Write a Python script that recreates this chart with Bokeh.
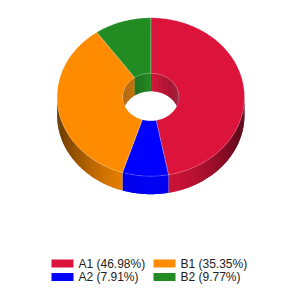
import numpy as np
from bokeh.plotting import figure
from bokeh.models import Range1d, ColumnDataSource
from bokeh.embed import file_html
from bokeh.resources import INLINE
from bokeh.core.properties import value

labels = ["A1", "A2", "B1", "B2"]
values = [46.98, 7.91, 35.35, 9.77]
colors = ["#DC143C", "#0000FF", "#FF8C00", "#228B22"]

CX, CY, RX, RY, DEPTH, INNER = 150.3, 96.5, 93.7, 79.2, 18.0, 0.3


def rgb(h):
    h = h.lstrip("#")
    return [int(h[i:i + 2], 16) for i in (0, 2, 4)]


def shade(h, f):
    r, g, b = rgb(h)
    c = [max(0, min(255, int(round(v * f)))) for v in (r, g, b)]
    return "#%02x%02x%02x" % tuple(c)


def pt(theta, r=1.0, dy=0.0):
    return CX + RX * r * np.sin(theta), CY - RY * r * np.cos(theta) + dy


total = sum(values)
fr = np.cumsum([0] + values) / total
starts = fr[:-1] * 2 * np.pi
ends = fr[1:] * 2 * np.pi

p = figure(width=300, height=300, x_range=Range1d(0, 300), y_range=Range1d(300, 0),
           output_backend="svg", toolbar_location=None, min_border=0,
           x_axis_type=None, y_axis_type=None)
p.grid.visible = False
p.outline_line_color = None

step = np.radians(1.5)


def strips(a0, a1, r, c, fshade, out_x, out_y, out_c):
    n = max(1, int(np.ceil((a1 - a0) / step)))
    ts = np.linspace(a0, a1, n + 1)
    for ta, tb in zip(ts[:-1], ts[1:]):
        tb2 = min(a1, tb + step * 0.8)
        tt = np.linspace(ta, tb2, 4)
        x, y = pt(tt, r)
        out_x.append(list(np.concatenate([x, x[::-1]])))
        out_y.append(list(np.concatenate([y, (y + DEPTH)[::-1]])))
        out_c.append(shade(c, fshade(0.5 * (ta + tb))))


# outer side walls (front half)
sx, sy, sc = [], [], []
for s, e, c in zip(starts, ends, colors):
    a0, a1 = max(s, np.pi / 2), min(e, 3 * np.pi / 2)
    if a1 > a0:
        strips(a0, a1, 1.0, c, lambda t: 0.95 - 0.55 * np.sin(t) ** 2, sx, sy, sc)
p.patches(xs="xs", ys="ys", fill_color="c", line_color=None,
          source=ColumnDataSource(dict(xs=sx, ys=sy, c=sc)))

# inner walls (back half)
ix, iy, ic = [], [], []
for s, e, c in zip(starts, ends, colors):
    for lo, hi in ((0, np.pi / 2), (3 * np.pi / 2, 2 * np.pi)):
        a0, a1 = max(s, lo), min(e, hi)
        if a1 > a0:
            strips(a0, a1, INNER, c, lambda t: 0.98 - 0.32 * abs(np.sin(t)), ix, iy, ic)
p.patches(xs="xs", ys="ys", fill_color="c", line_color=None,
          source=ColumnDataSource(dict(xs=ix, ys=iy, c=ic)))

# top faces
tx, ty = [], []
for s, e in zip(starts, ends):
    ts = np.linspace(s, e, max(2, int(np.ceil((e - s) / np.radians(1))) + 1))
    ox, oy = pt(ts)
    inx, iny = pt(ts[::-1], INNER)
    tx.append(list(np.concatenate([ox, inx])))
    ty.append(list(np.concatenate([oy, iny])))
p.patches(xs="xs", ys="ys", fill_color="c", line_color="white", line_alpha=0.35, line_width=0.6,
          source=ColumnDataSource(dict(xs=tx, ys=ty, c=colors)))

# legend
idx = np.arange(len(labels))
col = idx // 2
row = idx % 2
leg = ColumnDataSource(dict(
    x=62 + col * 102.0, y=263 + row * 13.5, tx=78 + col * 102.0,
    c=colors, t=["%s (%.2f%%)" % (l, v) for l, v in zip(labels, values)]))
p.rect(x="x", y="y", width=22, height=8, fill_color="c", line_color=None, source=leg)
p.text(x="tx", y="y", text="t", text_font=value("Liberation Sans"), text_font_size="12px",
       text_color="#222222", text_baseline="middle", text_align="left", source=leg)

open("out.html", "w").write(file_html(p, INLINE))
